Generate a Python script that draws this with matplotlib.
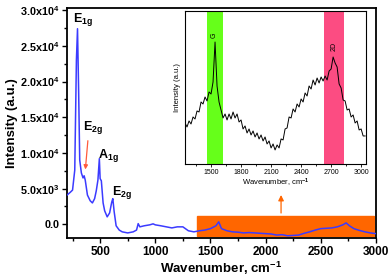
import matplotlib
matplotlib.use("Agg")
import matplotlib.pyplot as plt
from matplotlib.ticker import MultipleLocator, FixedLocator, FixedFormatter
from matplotlib.patches import Rectangle

plt.rcParams['font.family'] = ['Liberation Sans', 'DejaVu Sans']
plt.rcParams['mathtext.fontset'] = 'custom'
plt.rcParams['mathtext.rm'] = 'Liberation Sans'
plt.rcParams['mathtext.bf'] = 'Liberation Sans:bold'
plt.rcParams['mathtext.default'] = 'bf'

# 主光谱 (蓝线)
wn_main = [200, 230, 250, 270, 285, 295, 305, 315, 330, 345, 355, 365, 385, 410,
           430, 450, 465, 480, 493, 500, 511, 527, 541, 564, 586, 605, 615, 627,
           645, 673, 700, 750, 800, 830, 845, 860, 900, 950, 980, 1000, 1050,
           1100, 1150, 1200, 1250, 1300, 1350, 1400, 1450, 1500, 1550, 1575,
           1600, 1650, 1700, 1750, 1800, 1850, 1900, 1950, 2000, 2050, 2100,
           2150, 2200, 2250, 2300, 2350, 2400, 2450, 2500, 2550, 2600, 2650,
           2700, 2730, 2760, 2800, 2850, 2900, 2950, 3000]
int_main = [4100, 4500, 4800, 7600, 23000, 27400, 18800, 9000, 7200, 6500, 6800,
            6200, 4100, 3300, 3000, 3600, 4700, 6200, 9200, 6400, 6100, 3000,
            1900, 1050, 1600, 3100, 3600, 1800, -200, -800, -1050, -1200, -1050,
            -800, 100, -350, -200, -70, 70, -70, -200, -350, -500, -350, -350,
            -900, -1050, -900, -800, -600, -200, 350, -600, -900, -1050, -1100,
            -1200, -1150, -1200, -1250, -1300, -1350, -1500, -1450, -1600, -1550,
            -1500, -1250, -1050, -800, -600, -550, -500, -350, -70, 200, -200,
            -600, -850, -1050, -1200, -1300]

# 插图 (黑线, 任意单位)
wn_inset = list(range(1240, 3041, 20))
int_inset = [41, 37, 43, 40, 47, 45, 53, 52, 62, 60, 67, 63, 72, 70, 82, 122, 78,
             62, 54, 46, 50, 44, 50, 45, 52, 46, 50, 42, 44, 35, 38, 31, 35, 29,
             33, 27, 31, 25, 29, 23, 27, 20, 23, 16, 20, 14, 19, 16, 25, 24, 35,
             36, 47, 46, 55, 52, 60, 57, 65, 62, 71, 68, 78, 75, 84, 79, 86, 81,
             87, 83, 88, 84, 93, 95, 107, 101, 97, 80, 76, 64, 63, 54, 55, 47, 49,
             41, 43, 34, 35, 28, 28]

ytick_vals = [0, 5000, 10000, 15000, 20000, 25000, 30000]
ytick_labels = ['0.0', '5.0x10$^{3}$', '1.0x10$^{4}$', '1.5x10$^{4}$',
                '2.0x10$^{4}$', '2.5x10$^{4}$', '3.0x10$^{4}$']

fig = plt.figure(figsize=(3.92, 2.76), dpi=100)
ax = fig.add_axes([0.171, 0.138, 0.788, 0.833])

ax.add_patch(Rectangle((1380, -1600), 1600, 2800, color='#ff6600', zorder=1))
ax.plot(wn_main, int_main, color='#3b3bff', lw=1.1, zorder=3)
ax.set_xlim(200, 3000)
ax.set_ylim(-1900, 30300)
ax.xaxis.set_major_locator(MultipleLocator(500))
ax.xaxis.set_minor_locator(MultipleLocator(250))
ax.yaxis.set_major_locator(FixedLocator(ytick_vals))
ax.yaxis.set_major_formatter(FixedFormatter(ytick_labels))
ax.yaxis.set_minor_locator(MultipleLocator(2500))
ax.tick_params(which='both', direction='out', width=1.0)
ax.tick_params(axis='x', labelsize=8.5, pad=2.5)
ax.tick_params(axis='y', labelsize=7.8, pad=2)
ax.tick_params(which='major', length=3.5)
ax.tick_params(which='minor', length=2)
for lab in ax.get_xticklabels() + ax.get_yticklabels():
    lab.set_fontweight('bold')
for sp in ax.spines.values():
    sp.set_linewidth(1.3)
ax.set_xlabel('Wavenumber, cm$^{-1}$', fontsize=9.5, fontweight='bold', labelpad=1)
ax.set_ylabel('Intensity (a.u.)', fontsize=9.5, fontweight='bold', labelpad=1)

for x, y, s in [(255, 28700, 'E$_{1g}$'), (345, 13500, 'E$_{2g}$'),
                (482, 9700, 'A$_{1g}$'), (609, 4400, 'E$_{2g}$')]:
    ax.text(x, y, s, fontsize=9, fontweight='bold', va='center', ha='left')

ax.annotate('', xy=(364, 7300), xytext=(391, 12100),
            arrowprops=dict(arrowstyle='-|>', color='#ff5a3c', lw=0.9,
                            mutation_scale=6))
ax.annotate('', xy=(2140, 4500), xytext=(2140, 1200),
            arrowprops=dict(arrowstyle='-|>', color='#ff6600', lw=0.9,
                            mutation_scale=8))

# 插图
ins = fig.add_axes([0.472, 0.406, 0.462, 0.554])
ins.axvspan(1460, 1620, color='#66ff1a', lw=0)
ins.axvspan(2630, 2830, color='#fc4c82', lw=0)
ins.plot(wn_inset, int_inset, color='black', lw=0.7)
ins.set_xlim(1240, 3050)
ins.set_ylim(0, 153)
ins.xaxis.set_major_locator(MultipleLocator(300))
ins.xaxis.set_minor_locator(MultipleLocator(150))
ins.set_yticks([])
ins.tick_params(which='both', direction='out', width=0.6, labelsize=5, pad=1.5)
ins.tick_params(which='major', length=2)
ins.tick_params(which='minor', length=1.2)
for sp in ins.spines.values():
    sp.set_linewidth(0.8)
ins.set_xlabel('Wavenumber, cm$^{-1}$', fontsize=5.5, labelpad=1)
ins.set_ylabel('Intensity (a.u.)', fontsize=5.5, labelpad=3)
ins.text(1535, 129, 'G', fontsize=5, rotation=90, ha='center', va='center')
ins.text(2730, 118, '2D', fontsize=5, rotation=90, ha='center', va='center')

fig.savefig('out.png', dpi=100)
